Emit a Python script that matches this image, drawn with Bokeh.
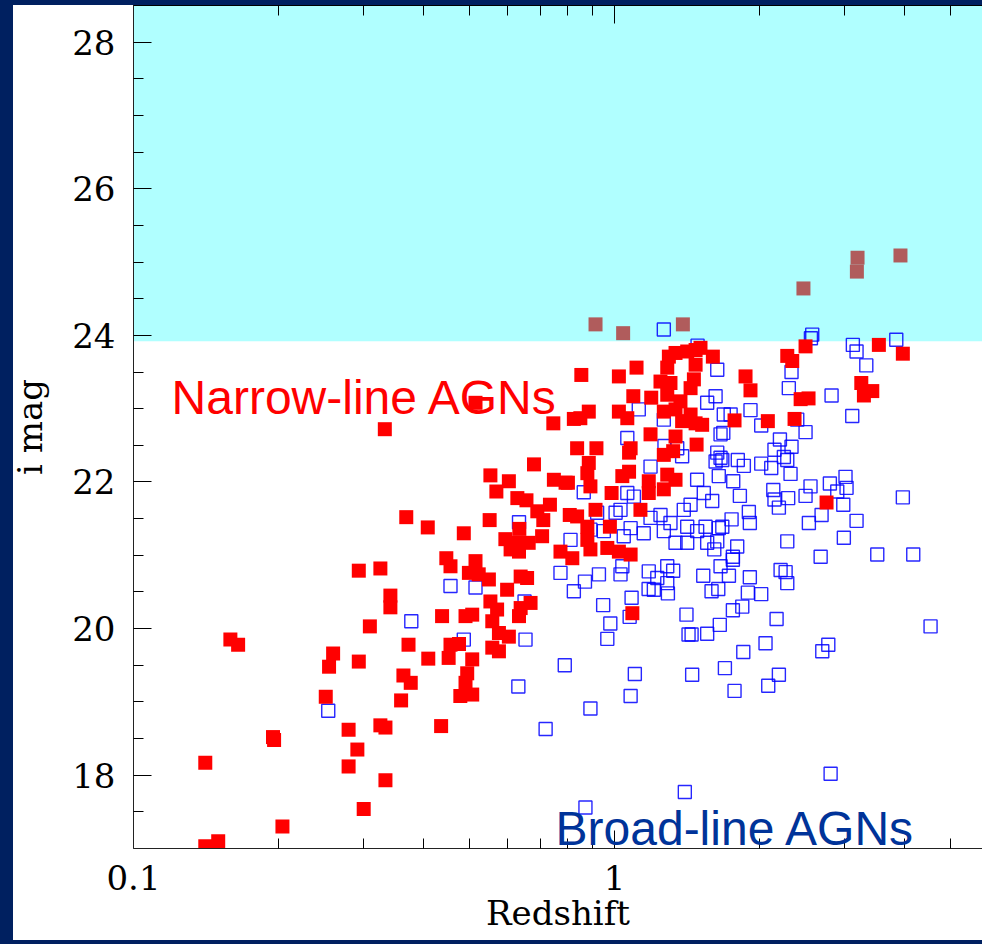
from bokeh.plotting import figure
from bokeh.models import (BoxAnnotation, Label, FixedTicker, LogAxis, Range1d,
                          ColumnDataSource, InlineStyleSheet)
from bokeh.embed import file_html
from bokeh.resources import INLINE

# ---------------- data ----------------
narrow_z = [0.333, 0.369, 0.294, 0.326, 0.342, 0.342, 0.310, 0.373, 0.159, 0.165,
            0.260, 0.255, 0.294, 0.364, 0.377, 0.251, 0.360, 0.280, 0.326, 0.334,
            0.195, 0.196, 0.292, 0.141, 0.280, 0.334, 0.301, 0.204, 0.141, 0.150,
            0.436, 0.514, 0.746, 0.680, 0.552, 0.603, 0.568, 0.748, 0.791, 0.628,
            0.656, 0.734, 0.691, 0.711, 0.550, 0.409, 0.486, 0.634, 0.593, 0.623,
            0.663, 0.707, 0.633, 0.608, 0.447, 0.456, 0.514, 0.498, 0.522, 0.548,
            0.598, 0.638, 0.658, 0.552, 0.570, 0.669, 0.633, 0.638, 0.438, 0.490,
            0.506, 0.557, 0.575, 0.603, 0.557, 0.575, 0.456, 0.475, 0.452, 0.410,
            0.506, 0.494, 0.490, 0.478, 0.506, 0.772, 0.817, 0.891, 0.966, 1.021,
            1.080, 1.089, 0.853, 1.021, 1.111, 1.297, 1.339, 1.416, 1.474, 1.509,
            1.601, 1.287, 1.474, 1.246, 1.307, 1.462, 1.439, 1.094, 1.192, 1.287,
            1.371, 0.884, 0.823, 0.849, 1.021, 1.063, 1.266, 1.339, 1.439, 1.382,
            1.474, 1.521, 1.188, 1.339, 1.481, 0.836, 0.917, 1.080, 1.072, 1.266,
            1.324, 0.884, 0.878, 1.038, 1.072, 0.800, 0.891, 1.178, 1.178, 1.287,
            1.339, 1.266, 0.986, 0.913, 1.132, 0.807, 0.836, 0.878, 0.878, 0.978,
            2.495, 2.286, 2.341, 3.544, 3.975, 1.872, 1.917, 3.258, 3.299, 3.434,
            2.437, 2.531, 1.776, 2.083, 2.367, 2.759,
            0.913, 1.042, 1.387, 2.470, 3.200, 3.190, 3.930]
narrow_mag = [22.72, 21.52, 20.79, 20.82, 20.45, 20.29, 20.03, 19.78, 19.85, 19.78,
              19.66, 19.48, 19.55, 19.36, 19.26, 19.07, 19.02, 18.62, 18.68, 18.65,
              18.52, 18.48, 18.35, 18.17, 18.12, 17.93, 17.54, 17.30, 17.03, 17.10,
              18.67, 23.08, 22.80, 22.24, 22.09, 22.01, 21.87, 22.03, 21.99, 21.78,
              21.75, 21.69, 21.60, 21.48, 21.48, 21.38, 21.30, 21.36, 21.22, 21.17,
              21.17, 21.26, 21.05, 21.08, 20.96, 20.85, 20.92, 20.76, 20.74, 20.67,
              20.53, 20.71, 20.69, 20.37, 20.26, 20.35, 20.17, 20.28, 20.17, 20.17,
              20.19, 20.10, 19.94, 19.89, 19.74, 19.69, 19.78, 19.79, 19.60, 19.59,
              19.58, 19.39, 19.26, 19.08, 19.10, 21.05, 20.96, 21.08, 21.10, 21.05,
              21.01, 20.21, 23.46, 23.44, 23.56, 23.71, 23.76, 23.78, 23.80, 23.83,
              23.71, 23.56, 23.60, 23.37, 23.35, 23.40, 23.28, 23.17, 23.15, 23.19,
              23.10, 22.96, 22.86, 22.87, 22.96, 22.87, 22.96, 22.99, 22.92, 22.83,
              22.80, 22.78, 22.65, 22.62, 22.51, 22.46, 22.46, 22.46, 22.40, 22.37,
              22.42, 22.26, 22.12, 22.08, 22.14, 21.99, 21.94, 22.01, 21.85, 22.10,
              22.03, 21.90, 21.85, 21.62, 21.62, 21.55, 21.53, 21.39, 21.21, 21.39,
              23.85, 23.72, 23.65, 23.87, 23.75, 23.44, 23.25, 23.35, 23.18, 23.24,
              23.13, 23.14, 22.84, 22.83, 22.86, 21.72,
              24.15, 24.03, 24.15, 24.64, 25.06, 24.87, 25.09]

broad_z = [0.254, 0.378, 0.456, 0.514, 0.486, 0.650, 0.653, 0.631, 0.719, 0.788,
           0.891, 1.102, 1.080, 0.980, 0.966, 0.947, 0.772, 0.823, 0.868, 0.928,
           1.029, 1.038, 1.085, 1.075, 1.177, 0.633, 0.810, 1.266, 1.635, 1.622,
           1.558, 1.687, 1.123, 1.266, 1.661, 1.063, 1.635, 1.661, 1.622, 1.350,
           1.188, 1.485, 1.647, 1.097, 1.533, 1.596, 1.439, 1.393, 1.029, 1.246,
           1.188, 1.307, 1.080, 1.416, 1.485, 1.546, 1.647, 1.045, 1.150, 1.339,
           1.416, 1.266, 1.635, 0.950, 2.576, 2.560, 3.129, 3.185, 3.852, 3.337,
           2.333, 2.303, 2.826, 3.120, 1.917, 1.743, 2.018, 2.495, 2.398, 1.683,
           2.207, 2.150, 2.333, 2.249, 2.286, 2.117, 2.018, 1.804, 1.857, 1.675,
           2.322, 1.765, 2.138, 2.150, 2.196, 2.296, 1.822, 2.495, 2.555, 2.803,
           3.021, 3.036, 2.904, 2.989, 3.975, 2.694, 2.535, 3.185, 1.902, 1.911,
           1.751, 2.286, 2.997, 1.799, 1.675, 2.682, 3.517, 4.178, 1.762, 1.558,
           1.612, 1.178, 1.227, 1.287, 1.324, 1.287, 1.207, 1.291, 1.529, 1.661,
           1.762, 1.729, 1.911, 1.591, 1.643, 2.214, 2.268, 2.286, 1.893, 2.018,
           1.843, 1.762, 1.411, 1.655, 1.446, 1.558, 1.425, 2.172, 4.539, 2.060,
           1.852, 2.782, 2.703, 1.450, 1.696, 2.196, 2.087, 1.776, 2.813, 1.400,
           0.863, 0.920, 0.891, 1.005, 1.063, 1.382, 1.270, 1.488, 0.870]
broad_mag = [18.88, 20.10, 20.58, 20.56, 19.85, 20.37, 19.85, 19.21, 18.63, 19.50,
             18.91, 19.38, 19.08, 20.07, 19.86, 20.32, 20.76, 20.51, 20.64, 20.74,
             20.74, 20.85, 20.42, 20.16, 20.54, 21.45, 21.21, 24.08, 23.53, 23.17,
             23.08, 22.92, 22.99, 22.85, 22.65, 22.60, 22.40, 22.33, 22.28, 22.46,
             22.21, 22.03, 22.08, 21.80, 21.85, 21.74, 21.69, 21.62, 21.62, 21.55,
             21.51, 21.44, 21.37, 21.39, 21.33, 21.39, 21.37, 21.26, 21.30, 21.17,
             21.17, 21.33, 21.19, 21.33, 24.01, 23.96, 23.87, 23.78, 23.94, 23.59,
             23.50, 23.28, 23.18, 22.90, 22.98, 22.92, 22.77, 22.68, 22.85, 22.67,
             22.58, 22.44, 22.48, 22.34, 22.30, 22.19, 22.25, 22.30, 22.22, 22.30,
             22.11, 22.01, 21.89, 21.76, 21.65, 21.78, 21.81, 21.81, 21.94, 21.98,
             22.07, 21.92, 21.87, 21.69, 21.79, 21.55, 21.44, 21.47, 21.59, 21.44,
             21.49, 21.19, 21.24, 21.12, 21.39, 20.98, 21.01, 21.01, 20.98, 21.17,
             21.08, 20.78, 20.69, 20.85, 20.79, 20.62, 20.53, 20.48, 20.72, 20.85,
             20.94, 20.72, 20.70, 20.51, 20.54, 20.80, 20.77, 20.62, 20.49, 20.47,
             20.30, 20.25, 20.19, 20.05, 19.92, 19.93, 19.92, 20.13, 20.03, 19.80,
             19.68, 19.78, 19.69, 19.37, 19.46, 19.37, 19.22, 19.15, 18.02, 17.77,
             21.86, 21.58, 21.35, 21.58, 21.85, 22.35, 22.49, 23.86, 17.56]

x_major_ticks = [0.1, 1]
x_minor_ticks = [0.2, 0.3, 0.4, 0.5, 0.6, 0.7, 0.8, 0.9, 2, 3, 4, 5]
x_tick_labels = {0.1: "0.1", 1: "1"}
y_major_ticks = [18, 20, 22, 24, 26, 28]
y_minor_ticks = [17.5, 18.5, 19, 19.5, 20.5, 21, 21.5, 22.5, 23, 23.5,
                 24.5, 25, 25.5, 26.5, 27, 27.5, 28.5]
band_limit = 23.92          # magnitude limit (region above is shaded)
label_texts = ["Narrow-line AGNs", "Broad-line AGNs"]
label_x = [0.12, 0.754]
label_y = [23.15, 17.27]
label_colors = ["#ff0000", "#003399"]
x_title, y_title = "Redshift", "i mag"

# ---------------- figure ----------------
W, H = 982, 944
p = figure(width=W, height=H, x_axis_type="log",
           x_range=Range1d(0.1, 5.82), y_range=Range1d(17, 28.5),
           output_backend="svg", toolbar_location=None,
           min_border_left=133, min_border_right=0, min_border_top=5, min_border_bottom=96,
           background_fill_color="white", border_fill_color="white",
           outline_line_color=None)
p.xgrid.visible = False
p.ygrid.visible = False

p.add_layout(BoxAnnotation(bottom=band_limit, fill_color="#b0ffff", fill_alpha=1.0,
                           line_alpha=0, level="underlay"))

serif = "DejaVu Serif"
xa = p.xaxis[0]
ya = p.yaxis[0]
xa.ticker = FixedTicker(ticks=x_major_ticks, minor_ticks=x_minor_ticks)
xa.major_label_overrides = x_tick_labels
ya.ticker = FixedTicker(ticks=y_major_ticks, minor_ticks=y_minor_ticks)
xa.axis_label = x_title
ya.axis_label = y_title
for ax in [xa, ya]:
    ax.major_label_text_font = serif
    ax.major_label_text_font_size = "34px"
    ax.major_label_text_color = "black"
    ax.axis_label_text_font = serif
    ax.axis_label_text_font_size = "34px"
    ax.axis_label_text_font_style = "normal"
    ax.axis_label_text_color = "black"
    ax.major_tick_in = 18
    ax.major_tick_out = 0
    ax.minor_tick_in = 10
    ax.minor_tick_out = 0
    ax.major_tick_line_color = "black"
    ax.minor_tick_line_color = "black"
    ax.axis_line_color = "#222222"
xa.major_label_standoff = 16
xa.axis_label_standoff = 0
ya.major_label_standoff = 18
ya.axis_label_standoff = 19

top = LogAxis(ticker=FixedTicker(ticks=x_major_ticks, minor_ticks=x_minor_ticks),
              major_label_text_font_size="0px", major_label_standoff=0,
              major_tick_in=18, major_tick_out=0, minor_tick_in=10, minor_tick_out=0,
              axis_line_color="black")
top.major_label_overrides = {0.1: "", 1: ""}
p.add_layout(top, "above")

# ---------------- points ----------------
p.scatter(broad_z, broad_mag, marker="square", size=13, fill_color=None,
          line_color="#0000ff", line_width=1.4, line_alpha=0.85)

narrow_colors = ["#b05c5c" if m > band_limit else "#ff0000" for m in narrow_mag]
src = ColumnDataSource(dict(z=narrow_z, mag=narrow_mag, color=narrow_colors))
p.scatter("z", "mag", source=src, marker="square", size=14,
          fill_color="color", line_color=None)

for t, x, y, c in zip(label_texts, label_x, label_y, label_colors):
    p.add_layout(Label(x=x, y=y, text=t, text_color=c, text_font="Liberation Sans",
                       text_font_size="48px", text_baseline="alphabetic",
                       text_align="left"))

# dark-blue slide frame drawn over the figure edges
p.stylesheets = [InlineStyleSheet(css="""
:host::after {
  content: "";
  position: absolute;
  left: 0; top: 0;
  width: 982px; height: 944px;
  box-sizing: border-box;
  border-left: 13px solid #002060;
  border-top: 5px solid #002060;
  border-bottom: 4px solid #002060;
  pointer-events: none;
  z-index: 1000;
}
""")]

open("out.html", "w").write(file_html(p, INLINE))
